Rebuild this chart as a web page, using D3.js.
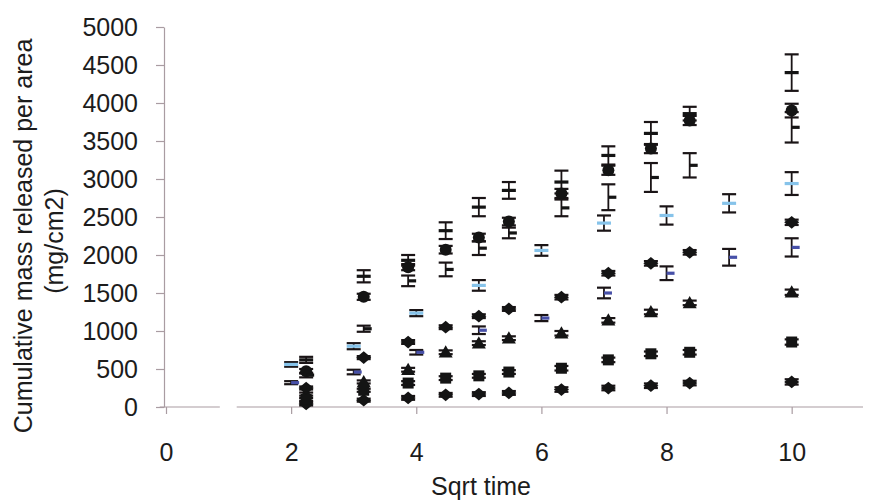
<!DOCTYPE html>
<html>
<head>
<meta charset="utf-8">
<script src="https://cdn.jsdelivr.net/npm/d3@7"></script>
<style>
  body { margin: 0; background: #fff; }
  text { font-family: "Liberation Sans", Arial, sans-serif; fill: #1c1c1c; }
</style>
</head>
<body>
<div id="chart"></div>
<script>
// sqrt of sampling time for the black series and for the two blue series
const xBlack = [2.24, 3.16, 3.87, 4.47, 5, 5.48, 6.32, 7.07, 7.75, 8.37, 10];
const xBlue = [2, 3, 4, 5, 6, 7, 8, 9, 10];

// values (mg/cm2)
const dashUpper = [620, 1720, 1930, 2320, 2630, 2850, 2960, 3310, 3600, 3860, 4400];
const dashUpperErr = [40, 80, 70, 110, 120, 110, 150, 120, 150, 90, 240];
const circles = [470, 1450, 1840, 2070, 2230, 2440, 2810, 3115, 3400, 3770, 3900];
const circlesErr = [30, 40, 40, 50, 50, 50, 60, 60, 60, 60, 90];
const dashLower = [420, 1030, 1660, 1810, 2090, 2290, 2620, 2760, 3020, 3180, 3680];
const dashLowerErr = [30, 40, 70, 90, 90, 70, 110, 170, 190, 160, 200];
const diamondsBig = [250, 650, 855, 1050, 1195, 1290, 1445, 1760, 1890, 2035, 2430];
const triangles = [170, 330, 490, 720, 840, 905, 970, 1140, 1250, 1370, 1510];
const squares = [100, 220, 315, 380, 410, 460, 510, 620, 700, 720, 855];
const diamondsSmall = [40, 90, 120, 160, 170, 185, 230, 250, 280, 315, 330];
const smallErr = [20, 20, 25, 25, 25, 25, 30, 30, 30, 30, 35];

const lightBlue = [560, 800, 1235, 1600, 2060, 2420, 2520, 2680, 2940];
const lightBlueErr = [30, 40, 40, 70, 70, 100, 120, 120, 150];
const darkBlue = [320, 460, 720, 1010, 1170, 1500, 1760, 1970, 2100];
const darkBlueErr = [20, 30, 30, 50, 40, 70, 90, 110, 120];

const xTicks = [0, 2, 4, 6, 8, 10];
const yTicks = [0, 500, 1000, 1500, 2000, 2500, 3000, 3500, 4000, 4500, 5000];

const W = 873, H = 501;
const black = "#141414";
const axisColor = "#a99ca2";

// build series table from the arrays
function pts(xs, ys, es) {
    return xs.map((x, i) => ({x: x, y: ys[i], e: es ? es[i] : 0}));
}
const series = [
    {pts: pts(xBlack, diamondsSmall, smallErr), shape: "diamond", size: 7.5, color: black},
    {pts: pts(xBlack, squares, smallErr), shape: "square", size: 5.5, color: black},
    {pts: pts(xBlack, triangles, smallErr), shape: "triangle", size: 7, color: black},
    {pts: pts(xBlack, diamondsBig, smallErr), shape: "diamond", size: 7.5, color: black},
    {pts: pts(xBlack, circles, circlesErr), shape: "circle", size: 6, color: black},
    {pts: pts(xBlack, dashUpper, dashUpperErr), shape: "dash", size: 7, color: black},
    {pts: pts(xBlack, dashLower, dashLowerErr), shape: "halfdash", size: 7, color: black},
    {pts: pts(xBlue, lightBlue, lightBlueErr), shape: "dash", size: 7, color: "#86c3ea"},
    {pts: pts(xBlue, darkBlue, darkBlueErr), shape: "halfdash", size: 7, color: "#4750a8"}
];

const svg = d3.select("#chart").append("svg")
    .attr("width", W)
    .attr("height", H);

const x = d3.scaleLinear().domain([0, 11.14]).range([166, 863]);
const y = d3.scaleLinear().domain([0, 5000]).range([407, 27]);

// y axis
const yAxis = svg.append("g")
    .attr("transform", "translate(164,0)")
    .call(d3.axisLeft(y).tickValues(yTicks).tickFormat(d3.format("d"))
        .tickSize(8).tickSizeOuter(0).tickPadding(18));
yAxis.select(".domain").attr("stroke", axisColor).attr("stroke-width", 1.2);
yAxis.selectAll(".tick line").attr("stroke", axisColor).attr("stroke-width", 1.2);
yAxis.selectAll(".tick text")
    .attr("font-size", 25)
    .attr("font-family", "Liberation Sans, Arial, sans-serif")
    .attr("fill", "#1c1c1c");

// x axis
const xAxis = svg.append("g")
    .attr("transform", "translate(0,407)")
    .call(d3.axisBottom(x).tickValues(xTicks).tickFormat(d3.format("d"))
        .tickSize(7).tickPadding(29));
xAxis.select(".domain").remove();
xAxis.selectAll(".tick line").attr("stroke", axisColor).attr("stroke-width", 1.2);
xAxis.selectAll(".tick text")
    .attr("font-size", 25)
    .attr("font-family", "Liberation Sans, Arial, sans-serif")
    .attr("fill", "#1c1c1c");

// axis line, with the small break near 1 seen in the original
[[-0.1, 0.86], [1.13, 11.14]].forEach(seg => {
    svg.append("line")
        .attr("x1", x(seg[0])).attr("x2", x(seg[1]))
        .attr("y1", y(0)).attr("y2", y(0))
        .attr("stroke", axisColor)
        .attr("stroke-width", 1.2);
});

// axis titles
svg.append("text")
    .attr("transform", "rotate(-90)")
    .attr("x", -236).attr("y", 32)
    .attr("text-anchor", "middle")
    .attr("font-size", 25)
    .text("Cumulative mass released per area");
svg.append("text")
    .attr("transform", "rotate(-90)")
    .attr("x", -241).attr("y", 63)
    .attr("text-anchor", "middle")
    .attr("font-size", 25)
    .text("(mg/cm2)");
svg.append("text")
    .attr("x", 481).attr("y", 495)
    .attr("text-anchor", "middle")
    .attr("font-size", 25)
    .text("Sqrt time");

// error bars
const capW = 7;
series.forEach(s => {
    const g = svg.append("g");
    const eb = s.pts.filter(d => d.e > 0);
    g.selectAll(".ebar").data(eb).enter().append("line")
        .attr("x1", d => x(d.x)).attr("x2", d => x(d.x))
        .attr("y1", d => y(d.y - d.e)).attr("y2", d => y(d.y + d.e))
        .attr("stroke", "#1a1416").attr("stroke-width", 1.8);
    ["top", "bot"].forEach(k => {
        g.selectAll(".cap-" + k).data(eb).enter().append("line")
            .attr("x1", d => x(d.x) - capW).attr("x2", d => x(d.x) + capW)
            .attr("y1", d => y(k === "top" ? d.y + d.e : d.y - d.e))
            .attr("y2", d => y(k === "top" ? d.y + d.e : d.y - d.e))
            .attr("stroke", "#1a1416").attr("stroke-width", 2.2);
    });
});

// marker shapes
function shapePath(shape, r) {
    switch (shape) {
        case "diamond":
            return `M${-r},0L0,${-r * 0.85}L${r},0L0,${r * 0.85}Z`;
        case "square":
            return `M${-r},${-r}H${r}V${r}H${-r}Z`;
        case "triangle":
            return `M0,${-r}L${r},${r * 0.75}H${-r}Z`;
        case "circle":
            return `M${-r},0A${r},${r} 0 1,0 ${r},0A${r},${r} 0 1,0 ${-r},0Z`;
        case "dash":
            return `M${-r},-1.6H${r}V1.6H${-r}Z`;
        case "halfdash":
            return `M0,-1.6H${r + 1}V1.6H0Z`;
    }
}

series.forEach(s => {
    svg.append("g").selectAll("path")
        .data(s.pts)
        .enter().append("path")
        .attr("transform", d => `translate(${x(d.x)},${y(d.y)})`)
        .attr("d", shapePath(s.shape, s.size))
        .attr("fill", s.color);
});
</script>
</body>
</html>
